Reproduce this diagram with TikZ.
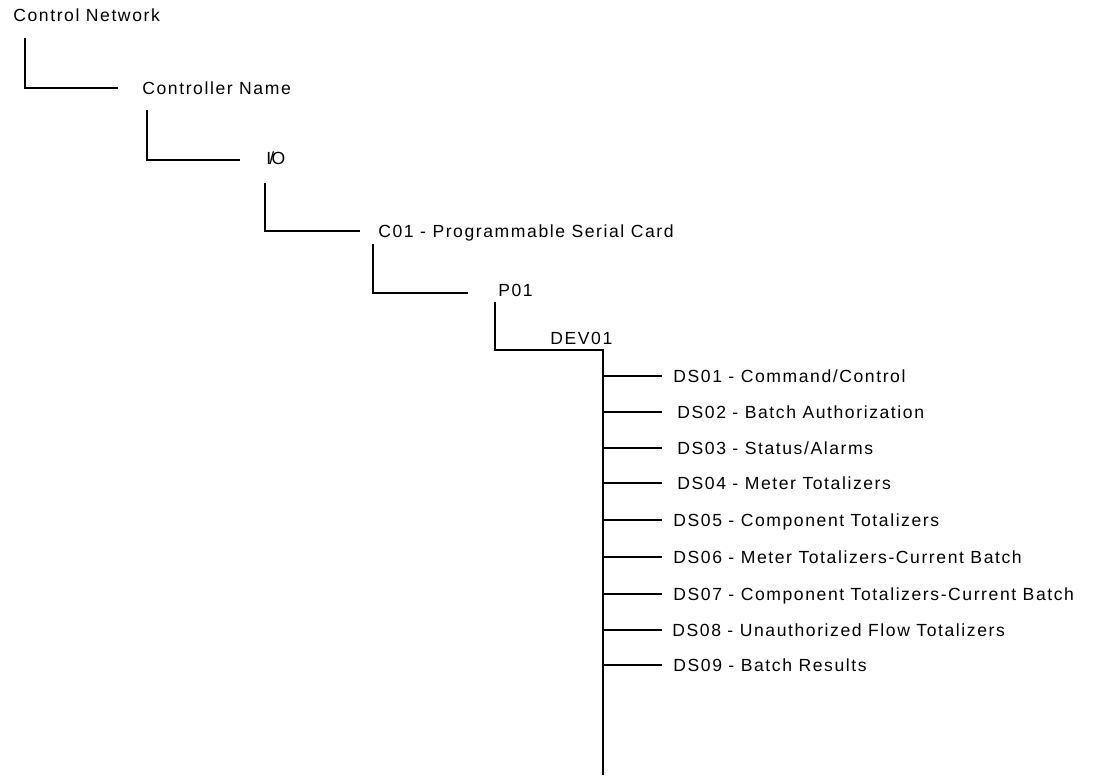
\documentclass[tikz,border=0pt]{standalone}
\usepackage{fontspec}
\setmainfont{Liberation Sans}[LetterSpace=9]
\usepackage{tikz}
\usetikzlibrary{positioning, calc}

\begin{document}
\begin{tikzpicture}[
  x=0.02cm, y=-0.02cm,
  entry/.style={anchor=west, inner sep=0pt, text height=7.1pt, text depth=0pt, font=\fontsize{10}{12}\selectfont},
  link/.style={line width=1.1pt, color=black}
]
  \useasboundingbox (0,0) rectangle (1098,775);

  \node[entry] (net) at (13,15) {Control Network};
  \node[entry] (ctrl) at (142,88) {Controller Name};
  \node[entry] (io) at (266,158) {I\kern-1pt/\kern-1.5pt O};
  \node[entry] (card) at (378,231) {C01 - Programmable Serial Card};
  \node[entry] (port) at (498,290) {P01};
  \node[entry] (dev) at (550,338) {DEV01};

  \coordinate (bus) at (603,350);
  \coordinate (tail) at (603,775);

  \node[entry] (ds1) at (673,376) {DS01 - Command/Control};
  \node[entry] (ds2) at (677,412) {DS02 - Batch Authorization};
  \node[entry] (ds3) at (677,448) {DS03 - Status/Alarms};
  \node[entry] (ds4) at (677,483) {DS04 - Meter Totalizers};
  \node[entry] (ds5) at (673,520) {DS05 - Component Totalizers};
  \node[entry] (ds6) at (673,557) {DS06 - Meter Totalizers-Current Batch};
  \node[entry] (ds7) at (673,594) {DS07 - Component Totalizers-Current Batch};
  \node[entry] (ds8) at (672,630) {DS08 - Unauthorized Flow Totalizers};
  \node[entry] (ds9) at (673,665) {DS09 - Batch Results};

  \draw[link] ($(net.west)+(12,23)$) |- ($(ctrl.west)+(-24,0)$);
  \draw[link] ($(ctrl.west)+(5,22)$) |- ($(io.west)+(-26,2)$);
  \draw[link] ($(io.west)+(-1,25)$) |- ($(card.west)+(-18,0)$);
  \draw[link] ($(card.west)+(-5,13)$) |- ($(port.west)+(-30,3)$);
  \draw[link] ($(port.west)+(-3,12)$) |- (bus) -- (tail);

  \draw[link] (bus |- ds1.west) -- ($(ds1.west)+(-11,0)$);
  \draw[link] (bus |- ds2.west) -- ($(ds2.west)+(-15,0)$);
  \draw[link] (bus |- ds3.west) -- ($(ds3.west)+(-15,0)$);
  \draw[link] (bus |- ds4.west) -- ($(ds4.west)+(-15,0)$);
  \draw[link] (bus |- ds5.west) -- ($(ds5.west)+(-11,0)$);
  \draw[link] (bus |- ds6.west) -- ($(ds6.west)+(-11,0)$);
  \draw[link] (bus |- ds7.west) -- ($(ds7.west)+(-11,0)$);
  \draw[link] (bus |- ds8.west) -- ($(ds8.west)+(-10,0)$);
  \draw[link] (bus |- ds9.west) -- ($(ds9.west)+(-11,0)$);
\end{tikzpicture}
\end{document}
